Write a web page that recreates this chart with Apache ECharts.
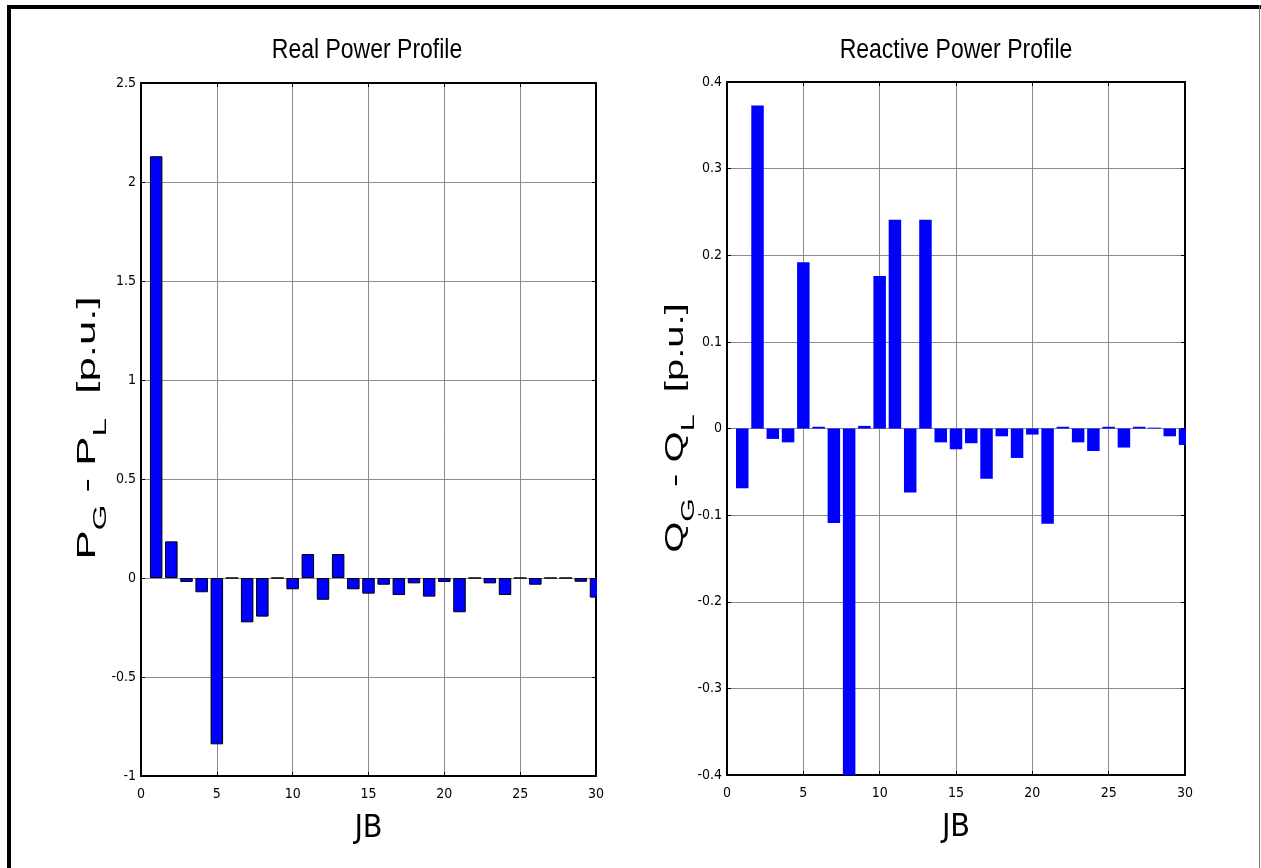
<!DOCTYPE html>
<html>
<head>
<meta charset="utf-8">
<script src="https://cdn.jsdelivr.net/npm/echarts@6/dist/echarts.min.js"></script>
<style>
html, body { margin: 0; padding: 0; background: #fff; }
#chart { width: 1261px; height: 868px; }
</style>
</head>
<body>
<div id="chart"></div>
<script>
// bus numbers (JB) and mismatch per bus
const busNo = [1, 2, 3, 4, 5, 6, 7, 8, 9, 10, 11, 12, 13, 14, 15, 16, 17, 18, 19, 20, 21, 22, 23, 24, 25, 26, 27, 28, 29, 30];
const realPower = [2.13, 0.185, -0.02, -0.072, -0.84, 0, -0.224, -0.195, 0, -0.057, 0.121, -0.11, 0.121, -0.057, -0.079, -0.034, -0.086, -0.027, -0.094, -0.02, -0.173, 0, -0.027, -0.086, 0, -0.034, 0, 0, -0.019, -0.099];
const reactivePower = [-0.069, 0.373, -0.012, -0.016, 0.192, 0.002, -0.109, -0.4, 0.003, 0.176, 0.241, -0.074, 0.241, -0.016, -0.024, -0.017, -0.058, -0.009, -0.034, -0.007, -0.11, 0.002, -0.016, -0.026, 0.002, -0.022, 0.002, 0.001, -0.009, -0.019];

// axis ranges: [min, max, interval]
const jbRange = [0, 30, 5];
const realRange = [-1, 2.5, 0.5];
const reactiveRange = [-0.4, 0.4, 0.1];

const titles = ['Real Power Profile', 'Reactive Power Profile'];

const narrow = "'Liberation Sans Narrow', 'Arial Narrow', 'DejaVu Sans Condensed', sans-serif";
const plain = "'Liberation Sans', Arial, sans-serif";

const grids = [
    { left: 141, top: 83, width: 455, height: 693 },
    { left: 727, top: 82, width: 458, height: 693 }
];

const chart = echarts.init(document.getElementById('chart'));

function toPairs(vals) {
    return busNo.map((b, i) => [b, vals[i]]);
}

function xAxes(gi) {
    return [{
        gridIndex: gi,
        type: 'value',
        min: jbRange[0], max: jbRange[1], interval: jbRange[2],
        axisLine: { show: true, onZero: false, lineStyle: { color: '#000', width: 2 } },
        axisTick: { show: true, inside: true, length: 4, lineStyle: { color: '#000' } },
        axisLabel: { color: '#000', fontSize: 14, fontFamily: narrow, margin: 11 },
        splitLine: { show: true, lineStyle: { color: '#8c8c8c', width: 1 } },
        name: 'JB',
        nameLocation: 'middle',
        nameGap: 37,
        nameTextStyle: { color: '#000', fontSize: 32, fontFamily: narrow }
    }, {
        gridIndex: gi,
        type: 'value',
        position: 'top',
        min: jbRange[0], max: jbRange[1], interval: jbRange[2],
        axisLine: { show: true, onZero: false, lineStyle: { color: '#000', width: 2 } },
        axisTick: { show: true, inside: true, length: 4, lineStyle: { color: '#000' } },
        axisLabel: { show: false },
        splitLine: { show: false }
    }];
}

function yAxes(gi, range) {
    return [{
        gridIndex: gi,
        type: 'value',
        min: range[0], max: range[1], interval: range[2],
        axisLine: { show: true, onZero: false, lineStyle: { color: '#000', width: 2 } },
        axisTick: { show: true, inside: true, length: 4, lineStyle: { color: '#000' } },
        axisLabel: { color: '#000', fontSize: 14, fontFamily: narrow, margin: 5 },
        splitLine: { show: true, lineStyle: { color: '#8c8c8c', width: 1 } }
    }, {
        gridIndex: gi,
        type: 'value',
        position: 'right',
        min: range[0], max: range[1], interval: range[2],
        axisLine: { show: true, onZero: false, lineStyle: { color: '#000', width: 2 } },
        axisTick: { show: true, inside: true, length: 4, lineStyle: { color: '#000' } },
        axisLabel: { show: false },
        splitLine: { show: false }
    }];
}

// rotated y label with subscripts, stretched along the text like the source figure
function yLabel(x, letter, stretch) {
    return {
        type: 'text',
        x: x, y: 428,
        rotation: Math.PI / 2,
        scaleX: stretch,
        style: {
            text: `{m|${letter}}{s|G}{m| - ${letter}}{s|L}{m|  [p.u.]}`,
            align: 'center',
            verticalAlign: 'middle',
            fill: '#000',
            rich: {
                m: { fontSize: 25, fontFamily: plain, lineHeight: 44, fill: '#000' },
                s: { fontSize: 19, fontFamily: plain, lineHeight: 19, verticalAlign: 'bottom', fill: '#000' }
            }
        }
    };
}

function title(x, text) {
    return {
        type: 'text', x: x, y: 50, scaleY: 1.22,
        style: { text: text, align: 'center', verticalAlign: 'middle', fontSize: 23, fontFamily: plain, fill: '#000' }
    };
}

// bars centred on JB = 30 spill past the box; hide the overflow like the source does
function mask(g) {
    return {
        type: 'rect', z: 50,
        shape: { x: g.left + g.width + 1, y: g.top, width: 9, height: g.height },
        style: { fill: '#fff' }
    };
}

const option = {
    animation: false,
    backgroundColor: '#fff',
    grid: grids,
    xAxis: [...xAxes(0), ...xAxes(1)],
    yAxis: [...yAxes(0, realRange), ...yAxes(1, reactiveRange)],
    series: [{
        name: 'P',
        type: 'bar',
        xAxisIndex: 0, yAxisIndex: 0,
        data: toPairs(realPower),
        barWidth: 12.5,
        itemStyle: { color: '#0000ff', borderColor: '#000', borderWidth: 1 }
    }, {
        name: 'Q',
        type: 'bar',
        xAxisIndex: 2, yAxisIndex: 2,
        data: toPairs(reactivePower),
        barWidth: 12.5,
        itemStyle: { color: '#0000ff' }
    }],
    graphic: [
        mask(grids[0]),
        mask(grids[1]),
        { type: 'line', shape: { x1: 7, y1: 7, x2: 1261, y2: 7 }, style: { stroke: '#000', lineWidth: 4 } },
        { type: 'line', shape: { x1: 9, y1: 5, x2: 9, y2: 868 }, style: { stroke: '#000', lineWidth: 4 } },
        { type: 'line', shape: { x1: 1259.5, y1: 5, x2: 1259.5, y2: 868 }, style: { stroke: '#777', lineWidth: 1 } },
        title(367, titles[0]),
        title(956, titles[1]),
        yLabel(88, 'P', 1.75),
        yLabel(676, 'Q', 1.6)
    ]
};

chart.setOption(option);
</script>
</body>
</html>
